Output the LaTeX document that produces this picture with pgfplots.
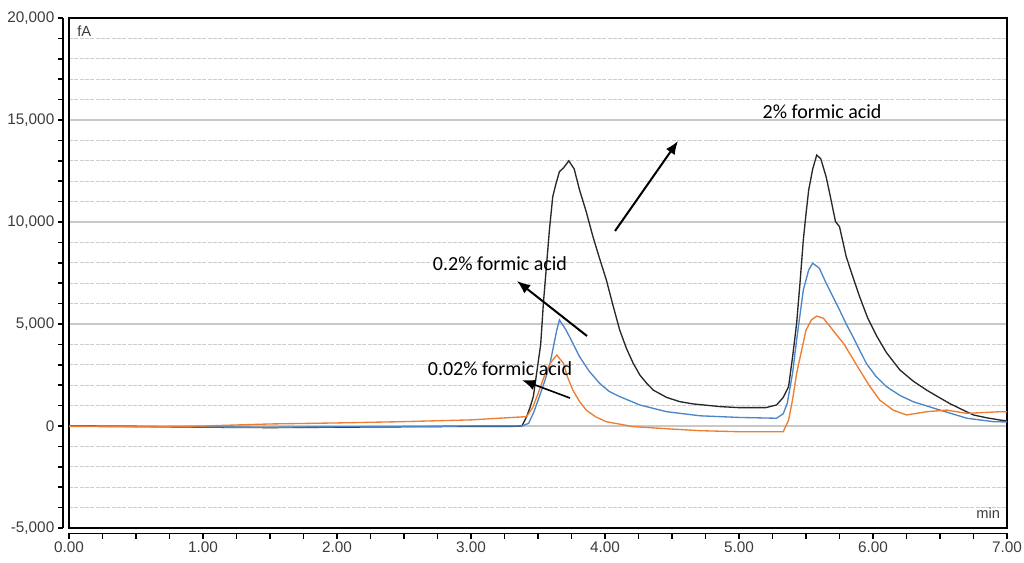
\documentclass[border=0pt]{standalone}
\usepackage{pgfplots}
\pgfplotsset{compat=1.18}
\usepackage{fontspec}
\setmainfont{Liberation Sans}
\newfontfamily\calibri{Carlito}
\usetikzlibrary{arrows.meta}

\definecolor{trblack}{RGB}{40,40,40}
\definecolor{trblue}{RGB}{74,134,200}
\definecolor{trorange}{RGB}{237,125,49}
\definecolor{gridmaj}{RGB}{200,200,200}
\definecolor{gridmin}{RGB}{205,205,205}
\definecolor{ticktext}{RGB}{60,60,60}

\begin{document}
\begin{tikzpicture}
% main frame, grid and traces
\begin{axis}[
  scale only axis,
  width=703.5pt, height=382.5pt,
  xmin=0, xmax=7, ymin=-5000, ymax=20000,
  axis line style={black, line width=1.5pt},
  xtick=\empty,
  ytick={-5000,0,...,20000},
  minor y tick num=4,
  yticklabels={},
  scaled y ticks=false,
  major tick length=0pt, minor tick length=0pt,
  ymajorgrids, yminorgrids,
  major grid style={gridmaj, line width=0.9pt},
  minor grid style={gridmin, line width=0.8pt, dash pattern=on 3pt off 1pt},
]
\addplot[trblack, line width=1pt] coordinates {
(0,0)(0.5,-20)(1.0,-60)(1.5,-80)(2.0,-60)(2.5,-40)(3.0,-20)(3.3,-20)(3.38,0)
(3.415,460)(3.44,900)(3.465,1440)(3.49,2600)(3.52,4000)(3.54,6000)(3.565,8000)
(3.585,9600)(3.61,11240)(3.635,11900)(3.66,12470)(3.69,12650)(3.73,13000)
(3.77,12600)(3.81,11570)(3.86,10500)(3.91,9280)(3.96,8200)(4.01,7160)(4.06,5900)
(4.11,4700)(4.16,3800)(4.21,3080)(4.26,2500)(4.31,2100)(4.36,1760)(4.46,1400)
(4.56,1190)(4.66,1080)(4.86,950)(5.0,900)(5.2,900)(5.28,1030)(5.33,1400)
(5.37,1930)(5.40,3400)(5.43,5030)(5.455,7000)(5.48,9120)(5.50,10400)(5.52,11570)
(5.55,12600)(5.58,13280)(5.61,13100)(5.65,12220)(5.68,11300)(5.72,10020)
(5.75,9770)(5.80,8300)(5.85,7300)(5.90,6340)(5.96,5300)(6.03,4380)(6.10,3600)
(6.20,2750)(6.30,2200)(6.40,1760)(6.48,1450)(6.57,1110)(6.66,820)(6.75,540)
(6.85,400)(6.95,290)(7.0,250)
};
\addplot[trblue, line width=1pt] coordinates {
(0,0)(0.5,-30)(1.0,-50)(1.5,-60)(2.0,-40)(2.5,-20)(3.0,0)(3.38,0)(3.43,130)
(3.47,700)(3.51,1440)(3.55,2200)(3.59,3070)(3.64,4700)(3.66,5200)(3.71,4700)
(3.76,4050)(3.81,3400)(3.88,2700)(3.96,2090)(4.03,1700)(4.11,1440)(4.26,1030)
(4.46,700)(4.71,500)(5.0,420)(5.28,380)(5.33,600)(5.36,1110)(5.40,2600)
(5.43,4220)(5.48,6670)(5.52,7650)(5.55,7980)(5.60,7730)(5.65,7000)(5.70,6350)
(5.75,5690)(5.80,5000)(5.85,4380)(5.95,3070)(6.02,2450)(6.10,1930)(6.20,1500)
(6.30,1190)(6.50,780)(6.70,380)(6.90,210)(7.0,200)
};
\addplot[trorange, line width=1pt] coordinates {
(0,-20)(0.5,-40)(1.0,0)(1.5,100)(2.0,150)(2.47,210)(3.0,300)(3.415,460)(3.46,900)
(3.51,1760)(3.55,2500)(3.59,3070)(3.64,3480)(3.69,3070)(3.72,2400)(3.76,1760)
(3.81,1200)(3.86,780)(3.93,450)(4.01,210)(4.21,-30)(4.5,-150)(4.71,-230)(5.0,-280)
(5.33,-280)(5.37,290)(5.40,1300)(5.43,2580)(5.50,4700)(5.54,5200)(5.58,5390)
(5.63,5280)(5.68,4870)(5.73,4450)(5.78,4050)(5.84,3400)(5.90,2750)(5.97,2000)
(6.05,1270)(6.15,780)(6.25,540)(6.40,700)(6.55,780)(6.70,620)(6.95,700)(7.0,700)
};
% annotations
\draw[black, line width=1.5pt, -{Latex[length=10pt,width=8pt]}] (axis cs:4.075,9560) -- (axis cs:4.545,13970);
\draw[black, line width=1.5pt, -{Latex[length=10pt,width=8pt]}] (axis cs:3.866,4410) -- (axis cs:3.343,7110);
\draw[black, line width=1.2pt, -{Latex[length=10pt,width=8pt]}] (axis cs:3.739,1370) -- (axis cs:3.381,2250);
\node[font=\calibri\fontsize{15}{17}\selectfont] at (axis cs:5.62,15390) {2\% formic acid};
\node[font=\calibri\fontsize{15}{17}\selectfont] at (axis cs:3.216,7940) {0.2\% formic acid};
\node[font=\calibri\fontsize{15}{17}\selectfont] at (axis cs:3.216,2790) {0.02\% formic acid};
\node[anchor=north west, text=ticktext, font=\fontsize{11}{13}\selectfont, inner sep=0pt]
  at ([xshift=6pt, yshift=-6pt]rel axis cs:0,1) {fA};
\node[anchor=south east, text=ticktext, font=\fontsize{11}{13}\selectfont, inner sep=0pt]
  at ([xshift=-5pt, yshift=7pt]rel axis cs:1,0) {min};
\coordinate (A) at (rel axis cs:0,0);
\coordinate (B) at (rel axis cs:1,1);
\end{axis}
% detached tick axes
\begin{axis}[
  scale only axis,
  width=703.5pt, height=382.5pt,
  xmin=0, xmax=7, ymin=-5000, ymax=20000,
  axis x line*=bottom, axis y line*=left,
  axis x line shift=4pt, axis y line shift=4.5pt,
  axis line style={black, line width=1.1pt},
  tick align=outside,
  tick style={black, line width=1.1pt},
  major tick length=4pt, minor tick length=4pt,
  xtick={0,1,...,7},
  minor x tick num=3,
  xticklabels={0.00,1.00,2.00,3.00,4.00,5.00,6.00,7.00},
  ytick={-5000,0,...,20000},
  minor y tick num=4,
  scaled y ticks=false, scaled x ticks=false,
  yticklabels={{-5,000},{0},{5,000},{10,000},{15,000},{20,000}},
  tick label style={text=ticktext, font=\fontsize{11.5}{13}\selectfont},
  xticklabel style={yshift=1pt},
  yticklabel style={xshift=1pt},
]
\addplot[draw=none] coordinates {(0,0)};
\end{axis}
\pgfresetboundingbox
\path ([xshift=-51.75pt, yshift=-25.5pt]A) rectangle ([xshift=12.75pt, yshift=13.5pt]B);
\end{tikzpicture}
\end{document}
